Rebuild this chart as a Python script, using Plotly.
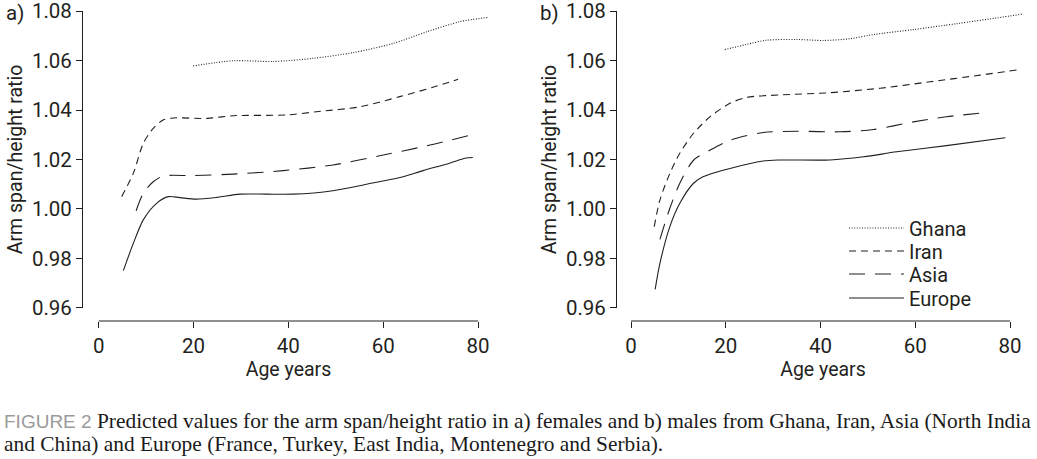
import plotly.graph_objects as go

# ---------------- data ----------------
series_names = ["Ghana", "Iran", "Asia", "Europe"]

# Panel a) females
a_ghana_age = [19.9, 28.4, 36.8, 45.3, 53.7, 62.1, 69.2, 76.2, 82.0]
a_ghana_val = [1.0578, 1.0599, 1.0596, 1.0609, 1.0632, 1.0669, 1.0716, 1.0757, 1.0774]

a_iran_age = [4.85, 7.3, 9.4, 11.5, 13.6, 15.7, 22.8, 28.4, 39.6, 45.9, 55.1, 63.5, 70.5, 75.8]
a_iran_val = [1.005, 1.0144, 1.0265, 1.0326, 1.0360, 1.0368, 1.0366, 1.0377, 1.0380, 1.0393, 1.0413, 1.0454, 1.0492, 1.0524]

a_asia_age = [7.9, 9.4, 11.5, 13.6, 19.9, 28.4, 38.9, 49.4, 60.0, 69.1, 77.9]
a_asia_val = [0.9993, 1.0063, 1.0110, 1.0133, 1.0135, 1.0141, 1.0155, 1.0178, 1.0218, 1.0255, 1.0296]

a_europe_age = [5.2, 7.3, 9.4, 12.2, 14.7, 17.1, 20.6, 24.9, 29.8, 35.4, 41.0, 49.4, 56.5, 63.5, 68.4, 74.0, 77.5, 78.9]
a_europe_val = [0.9751, 0.9861, 0.9956, 1.0023, 1.0050, 1.0046, 1.0040, 1.0047, 1.0060, 1.0060, 1.0060, 1.0074, 1.0100, 1.0127, 1.0155, 1.0185, 1.0206, 1.0208]

# Panel b) males
b_ghana_age = [19.8, 24.4, 28.6, 35.0, 40.6, 46.2, 51.2, 59.6, 68.8, 77.2, 82.7]
b_ghana_val = [1.0644, 1.0665, 1.0682, 1.0685, 1.0681, 1.0688, 1.0705, 1.0725, 1.0749, 1.0772, 1.0788]

b_iran_age = [4.9, 6.1, 8.2, 10.3, 13.2, 16.7, 20.9, 24.4, 31.5, 42.0, 52.6, 63.1, 73.7, 81.6]
b_iran_val = [0.9929, 1.0036, 1.0144, 1.0225, 1.0306, 1.0373, 1.0427, 1.0451, 1.0461, 1.0470, 1.0488, 1.0514, 1.0541, 1.0562]

b_asia_age = [6.1, 8.2, 10.3, 13.2, 16.7, 20.9, 27.9, 35.0, 44.1, 51.2, 59.6, 66.6, 74.7]
b_asia_val = [0.9877, 1.0003, 1.0104, 1.0197, 1.0238, 1.0278, 1.0309, 1.0314, 1.0312, 1.0321, 1.0352, 1.0373, 1.0389]

b_europe_age = [5.1, 6.1, 8.2, 10.3, 13.2, 15.3, 20.9, 27.9, 31.5, 42.0, 49.1, 56.1, 66.6, 79.0]
b_europe_val = [0.9675, 0.9780, 0.9929, 1.0023, 1.0104, 1.0131, 1.0164, 1.0194, 1.0198, 1.0198, 1.0211, 1.0231, 1.0256, 1.0288]

x_ticks = [0, 20, 40, 60, 80]
y_ticks = [0.96, 0.98, 1.00, 1.02, 1.04, 1.06, 1.08]
x_title = "Age years"
y_title = "Arm span/height ratio"
panel_labels = ["a)", "b)"]
caption_1 = ("<span style='font-family:Liberation Sans;font-size:19px;color:#9a9a9a'>FIGURE 2</span> "
             "Predicted values for the arm span/height ratio in a) females and b) males from Ghana, Iran, Asia (North India")
caption_2 = "and China) and Europe (France, Turkey, East India, Montenegro and Serbia)."

# ---------------- styling ----------------
W, H = 1037, 459
INK = "#231f20"
TICKFONT = dict(family="Roboto", size=20.5, color=INK)
dashes = {"Ghana": "1px,1.6px", "Iran": "7px,5px", "Asia": "16px,10px", "Europe": "solid"}
legend_ids = {"Ghana": "legend", "Iran": "legend2", "Asia": "legend3", "Europe": "legend4"}
legend_centers_px = {"Ghana": 228, "Iran": 251, "Asia": 274, "Europe": 298}

panel_a = [(a_ghana_age, a_ghana_val), (a_iran_age, a_iran_val),
           (a_asia_age, a_asia_val), (a_europe_age, a_europe_val)]
panel_b = [(b_ghana_age, b_ghana_val), (b_iran_age, b_iran_val),
           (b_asia_age, b_asia_val), (b_europe_age, b_europe_val)]

def px_x(p):
    return p / W

def px_y(p):
    return 1 - p / H

fig = go.Figure()

for name, (xs, ys) in zip(series_names, panel_a):
    fig.add_trace(go.Scatter(x=xs, y=ys, mode="lines", name=name, showlegend=False,
                             line=dict(color=INK, width=1.1, dash=dashes[name], shape="spline", smoothing=0.8),
                             xaxis="x", yaxis="y"))
for name, (xs, ys) in zip(series_names, panel_b):
    fig.add_trace(go.Scatter(x=xs, y=ys, mode="lines", name=name, showlegend=True,
                             legend=legend_ids[name],
                             line=dict(color=INK, width=1.1, dash=dashes[name], shape="spline", smoothing=0.8),
                             xaxis="x2", yaxis="y2"))

# geometry (pixels measured on the reference)
ya_top, ya_bot = 11, 308          # 1.08 and 0.96
xaxis_y = 321                    # detached x-axis baseline
a_left, a_x0, a_x80, a_right = 82, 98.7, 478, 495
b_left, b_x0, b_x80, b_right = 616, 631, 1010, 1030

def xrange_for(left, x0, x80, right):
    k = 80 / (x80 - x0)
    return [(left - x0) * k, (right - x0) * k]

common_x = dict(showgrid=False, zeroline=False, showline=False, ticks="outside", ticklen=6,
                tickwidth=1, tickcolor=INK, tickvals=x_ticks, tickfont=TICKFONT,
                anchor="free", position=px_y(xaxis_y), automargin=False, ticklabeloverflow="allow",
                title=dict(text=x_title, font=dict(family="Roboto", size=19.5, color=INK), standoff=2))
common_y = dict(showgrid=False, zeroline=False, showline=True, linecolor=INK, linewidth=1,
                ticks="outside", ticklen=6, tickwidth=1, tickcolor=INK, tickvals=y_ticks,
                tickformat=".2f", tickfont=TICKFONT, range=[0.95999, 1.08001], automargin=False,
                ticklabeloverflow="allow",
                domain=[px_y(ya_bot), px_y(ya_top)], anchor="free",
                title=dict(text=y_title, font=dict(family="Roboto", size=19.5, color=INK), standoff=3))

legend_common = dict(xanchor="left", yanchor="middle", x=px_x(844),
                     font=dict(family="Roboto", size=20, color=INK), bgcolor="rgba(0,0,0,0)",
                     itemwidth=55)

fig.update_layout(
    width=W, height=H,
    margin=dict(l=0, r=0, t=0, b=0),
    paper_bgcolor="white", plot_bgcolor="white",
    xaxis=dict(domain=[px_x(a_left), px_x(a_right)], range=xrange_for(a_left, a_x0, a_x80, a_right), **common_x),
    yaxis=dict(position=px_x(a_left), **common_y),
    xaxis2=dict(domain=[px_x(b_left), px_x(b_right)], range=xrange_for(b_left, b_x0, b_x80, b_right), **common_x),
    yaxis2=dict(position=px_x(b_left), **common_y),
    showlegend=True,
)
for name in series_names:
    fig.update_layout({legend_ids[name]: dict(y=px_y(legend_centers_px[name]), **legend_common)})

# detached x-axis baselines spanning 0..80
for xref in ["x", "x2"]:
    fig.add_shape(type="line", xref=xref, yref="paper", x0=x_ticks[0], x1=x_ticks[-1],
                  y0=px_y(xaxis_y), y1=px_y(xaxis_y), line=dict(color=INK, width=1))

# panel labels
for lab, xp in zip(panel_labels, [4, 538]):
    fig.add_annotation(text=lab, x=px_x(xp), y=px_y(13), xref="paper", yref="paper",
                       xanchor="left", yanchor="middle", showarrow=False,
                       font=dict(family="Roboto", size=20.5, color=INK))

# caption
fig.add_annotation(text=caption_1, x=px_x(2), y=px_y(421), xref="paper", yref="paper",
                   xanchor="left", yanchor="middle", showarrow=False,
                   font=dict(family="Liberation Serif", size=21.4, color="#1a1a1a"))
fig.add_annotation(text=caption_2, x=px_x(2), y=px_y(444), xref="paper", yref="paper",
                   xanchor="left", yanchor="middle", showarrow=False,
                   font=dict(family="Liberation Serif", size=21.4, color="#1a1a1a"))

fig.write_html("out.html")
